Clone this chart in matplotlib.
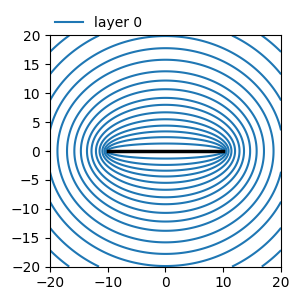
import numpy as np
import matplotlib
matplotlib.use("Agg")
import matplotlib.pyplot as plt

# line element end points
x1, y1 = -10.0, 0.0
x2, y2 = 10.0, 0.0
# contour levels: semi-minor axis of each confocal ellipse
levels = [1.3, 2.4, 3.4, 4.4, 5.5, 6.7, 8.0, 9.2, 10.7, 12.2, 13.8,
          15.8, 17.8, 19.9, 22.6, 25.3, 28.2]
xlim = [-20, 20]
ylim = [-20, 20]
ticks = [-20, -15, -10, -5, 0, 5, 10, 15, 20]
xticks = [-20, -10, 0, 10, 20]

xg = np.linspace(-20, 20, 401)
yg = np.linspace(-20, 20, 401)
X, Y = np.meshgrid(xg, yg)
r1 = np.hypot(X - x1, Y - y1)
r2 = np.hypot(X - x2, Y - y2)
c = 0.5 * np.hypot(x2 - x1, y2 - y1)
a = 0.5 * (r1 + r2)
B = np.sqrt(np.maximum(a**2 - c**2, 0))

fig = plt.figure(figsize=(2.99, 3.0), dpi=100)
ax = fig.add_axes([0.167, 0.11, 0.773, 0.773])
ax.contour(X, Y, B, levels=levels, colors="C0", linewidths=1.5)
ax.plot([x1, x2], [y1, y2], "k", lw=2.5)
ax.plot([], [], color="C0", lw=1.5, label="layer 0")

ax.set_xlim(xlim)
ax.set_ylim(ylim)
ax.set_aspect("equal")
ax.set_xticks(xticks)
ax.set_yticks(ticks)
ax.legend(loc="lower left", bbox_to_anchor=(0, 1.0), frameon=False,
          borderaxespad=0.0)

fig.savefig("out.png", dpi=100)
